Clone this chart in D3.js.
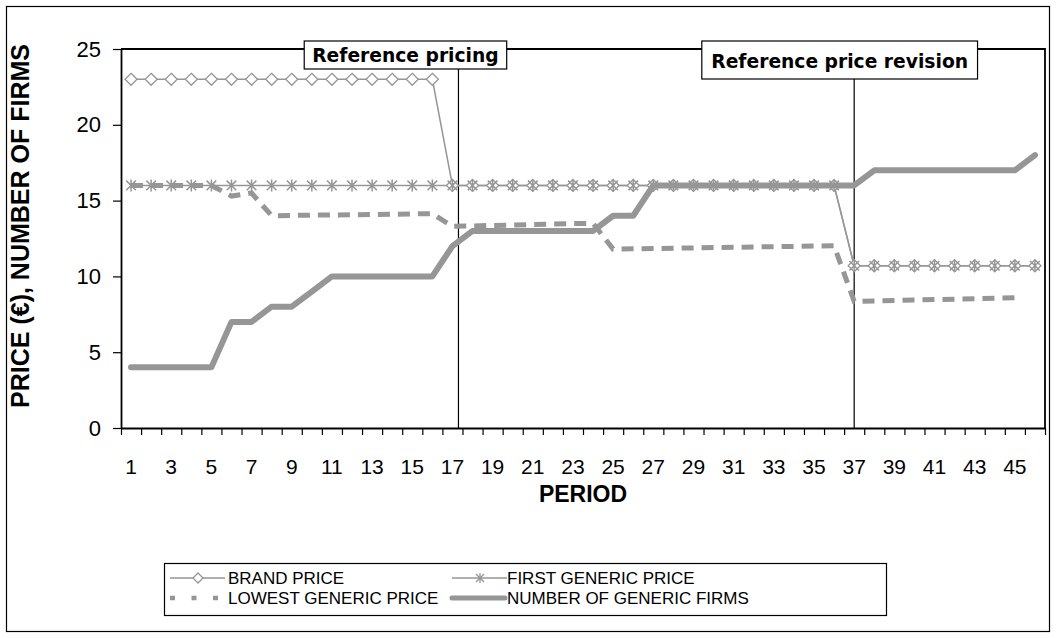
<!DOCTYPE html>
<html>
<head>
<meta charset="utf-8">
<script src="https://cdn.jsdelivr.net/npm/d3@7"></script>
<style>
  html, body { margin: 0; padding: 0; background: #fff; }
  svg { display: block; }
</style>
</head>
<body>
<svg id="chart" width="1057" height="638"></svg>
<script>
// ---- data ----
const periods = [1,2,3,4,5,6,7,8,9,10,11,12,13,14,15,16,17,18,19,20,21,22,23,24,25,26,27,28,29,30,31,32,33,34,35,36,37,38,39,40,41,42,43,44,45,46];
const brandPrice = [23,23,23,23,23,23,23,23,23,23,23,23,23,23,23,23,
  16,16,16,16,16,16,16,16,16,16,16,16,16,16,16,16,16,16,16,16,
  10.7,10.7,10.7,10.7,10.7,10.7,10.7,10.7,10.7,10.7];
const firstGenericPrice = [16,16,16,16,16,16,16,16,16,16,16,16,16,16,16,16,16,16,16,16,16,16,16,16,16,16,16,16,16,16,16,16,16,16,16,16,
  10.7,10.7,10.7,10.7,10.7,10.7,10.7,10.7,10.7,10.7];
const lowestGenericPrice = [16,16,16,16,16,15.3,15.5,14.0,14.02,14.04,14.05,14.07,14.08,14.1,14.12,14.14,
  13.3,13.33,13.36,13.39,13.42,13.45,13.48,13.5,
  11.8,11.82,11.84,11.86,11.88,11.9,11.92,11.94,11.96,11.98,12.0,12.02,
  8.35,8.38,8.41,8.44,8.47,8.5,8.53,8.56,8.6,null];
const genericFirms = [4,4,4,4,4,7,7,8,8,9,10,10,10,10,10,10,12,13,13,13,13,13,13,13,14,14,16,16,16,16,16,16,16,16,16,16,16,17,17,17,17,17,17,17,17,18];
const yTicks = [0,5,10,15,20,25];
const xLabels = [1,3,5,7,9,11,13,15,17,19,21,23,25,27,29,31,33,35,37,39,41,43,45];
const annotations = [
  {label: "Reference pricing", period: 17.3},
  {label: "Reference price revision", period: 37}
];
const legendItems = ["BRAND PRICE", "FIRST GENERIC PRICE", "LOWEST GENERIC PRICE", "NUMBER OF GENERIC FIRMS"];

// ---- layout ----
const svg = d3.select("#chart");
const gray = "#969696";
const plot = {left: 121, right: 1045, top: 49, bottom: 428};
const sans = "'Liberation Sans', Arial, sans-serif";

// outer border
svg.append("rect").attr("x", 6.5).attr("y", 6.5).attr("width", 1043).attr("height", 625)
  .attr("fill", "#fff").attr("stroke", "#000").attr("stroke-width", 1.2);

const x = d3.scaleLinear().domain([0.5, periods.length + 0.5]).range([plot.left, plot.right]);
const y = d3.scaleLinear().domain([0, 25]).range([plot.bottom, plot.top]);

// plot frame (top/right)
svg.append("path")
  .attr("d", `M${plot.left},${plot.top}H${plot.right}V${plot.bottom}`)
  .attr("fill", "none").attr("stroke", "#000").attr("stroke-width", 1.8);

// y axis
const yAxis = svg.append("g").attr("transform", `translate(${plot.left},0)`)
  .call(d3.axisLeft(y).tickValues(yTicks).tickSize(8).tickSizeOuter(0).tickPadding(12));
yAxis.select(".domain").attr("stroke", "#000").attr("stroke-width", 1.8);
yAxis.selectAll(".tick line").attr("stroke", "#000").attr("stroke-width", 1.2);
yAxis.selectAll(".tick text").attr("font-family", sans)
  .attr("font-size", 22).attr("fill", "#000");

// x axis (ticks between categories)
const boundaries = [0].concat(periods).map(p => p + 0.5);
const xAxis = svg.append("g").attr("transform", `translate(0,${plot.bottom})`)
  .call(d3.axisBottom(x).tickValues(boundaries).tickSize(7).tickSizeOuter(0).tickFormat(""));
xAxis.select(".domain").attr("stroke", "#000").attr("stroke-width", 1.8);
xAxis.selectAll(".tick line").attr("stroke", "#000").attr("stroke-width", 1.2);

svg.append("g").selectAll("text").data(xLabels).join("text")
  .attr("x", d => x(d)).attr("y", 474)
  .attr("text-anchor", "middle")
  .attr("font-family", sans).attr("font-size", 21)
  .text(d => d);

// axis titles
svg.append("text").attr("x", 583).attr("y", 502).attr("text-anchor", "middle")
  .attr("font-family", sans).attr("font-weight", "bold")
  .attr("font-size", 23).text("PERIOD");
svg.append("text").attr("transform", "translate(29,226) rotate(-90)").attr("text-anchor", "middle")
  .attr("font-family", sans).attr("font-weight", "bold")
  .attr("font-size", 25).text("PRICE (€), NUMBER OF FIRMS");

// reference lines and boxes
const boxTop = 41;
const boxMeta = [{h: 28, base: 62, pad: 8, off: -53}, {h: 38, base: 68, pad: 9.5, off: -14.5}];
annotations.forEach((a, i) => {
  const g = svg.append("g");
  const m = boxMeta[i];
  g.append("line").attr("x1", x(a.period)).attr("x2", x(a.period))
    .attr("y1", boxTop + m.h).attr("y2", plot.bottom)
    .attr("stroke", "#000").attr("stroke-width", 1.2);
  const rect = g.append("rect").attr("fill", "#fff").attr("stroke", "#000").attr("stroke-width", 1.2);
  const t = g.append("text").attr("y", m.base)
    .attr("font-family", "'DejaVu Sans', Verdana, sans-serif").attr("font-weight", "bold")
    .attr("font-size", 18.7).text(a.label);
  const w = t.node().getComputedTextLength();
  const boxW = w + 2 * m.pad;
  const cx = x(a.period) + m.off;
  rect.attr("x", cx - boxW / 2).attr("y", boxTop).attr("width", boxW).attr("height", m.h);
  t.attr("x", cx - w / 2);
});

// series
const lineGen = (vals) => d3.line()
  .defined((d, i) => vals[i] !== null)
  .x((d, i) => x(periods[i])).y((d, i) => y(vals[i]))(vals);

svg.append("path").attr("d", lineGen(brandPrice)).attr("fill", "none")
  .attr("stroke", gray).attr("stroke-width", 1.5);
svg.append("path").attr("d", lineGen(firstGenericPrice)).attr("fill", "none")
  .attr("stroke", gray).attr("stroke-width", 1.5);

const diamond = (s) => `M0,${-s}L${s},0L0,${s}L${-s},0Z`;
const asterisk = (s) => `M0,${-s}V${s}M${-s*0.8},${-s*0.8}L${s*0.8},${s*0.8}M${s*0.8},${-s*0.8}L${-s*0.8},${s*0.8}`;

svg.append("g").selectAll("path").data(brandPrice).join("path")
  .attr("transform", (d, i) => `translate(${x(periods[i])},${y(d)})`)
  .attr("d", diamond(6)).attr("fill", "#fff").attr("stroke", gray).attr("stroke-width", 1.3);
svg.append("g").selectAll("path").data(firstGenericPrice).join("path")
  .attr("transform", (d, i) => `translate(${x(periods[i])},${y(d)})`)
  .attr("d", asterisk(6)).attr("fill", "none").attr("stroke", gray).attr("stroke-width", 1.5);

svg.append("path").attr("d", lineGen(lowestGenericPrice)).attr("fill", "none")
  .attr("stroke", gray).attr("stroke-width", 5).attr("stroke-dasharray", "12,8");
svg.append("path").attr("d", lineGen(genericFirms)).attr("fill", "none")
  .attr("stroke", gray).attr("stroke-width", 6).attr("stroke-linejoin", "round").attr("stroke-linecap", "round");

// legend
svg.append("rect").attr("x", 164.5).attr("y", 563.5).attr("width", 722).attr("height", 52)
  .attr("fill", "#fff").attr("stroke", "#000").attr("stroke-width", 1.2);
const legPos = [{x: 170, y: 578}, {x: 452, y: 578}, {x: 170, y: 598}, {x: 452, y: 598}];
legendItems.forEach((name, i) => {
  const p = legPos[i];
  const g = svg.append("g").attr("transform", `translate(${p.x},${p.y})`);
  if (i === 0 || i === 1) {
    g.append("line").attr("x1", 0).attr("x2", 55).attr("stroke", gray).attr("stroke-width", 1.5);
    g.append("path").attr("transform", "translate(28,0)")
      .attr("d", i === 0 ? diamond(5) : asterisk(5))
      .attr("fill", i === 0 ? "#fff" : "none").attr("stroke", gray).attr("stroke-width", 1.3);
  } else if (i === 2) {
    g.append("line").attr("x1", 0).attr("x2", 55).attr("stroke", gray).attr("stroke-width", 4.5)
      .attr("stroke-dasharray", "5,16.5");
  } else {
    g.append("line").attr("x1", 0).attr("x2", 53).attr("stroke", gray).attr("stroke-width", 5)
      .attr("stroke-linecap", "round");
  }
  g.append("text").attr("x", i % 2 === 0 ? 58 : 55).attr("y", 0).attr("dy", "0.36em")
    .attr("font-family", sans).attr("font-size", 17)
    .text(name);
});
</script>
</body>
</html>
